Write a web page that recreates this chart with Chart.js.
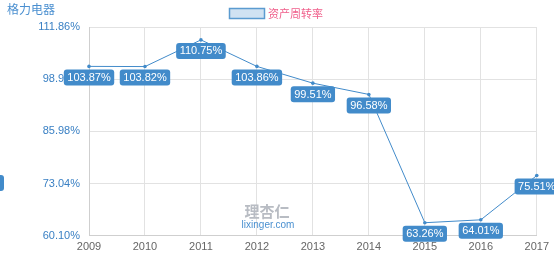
<!DOCTYPE html>
<html><head><meta charset="utf-8">
<script src="https://cdn.jsdelivr.net/npm/chart.js@4/dist/chart.umd.min.js"></script>
<style>html,body{margin:0;padding:0;background:#fff}#wrap{width:554px;height:259px;position:relative}</style>
</head><body><div id="wrap"><canvas id="c" width="554" height="259"></canvas></div>
<script>
const years = ['2009','2010','2011','2012','2013','2014','2015','2016','2017'];
const turnover = [103.87,103.82,110.75,103.86,99.51,96.58,63.26,64.01,75.51];
const yTickLabels = ['60.10%','73.04%','85.98%','98.92%','111.86%'];
const seriesName = '资产周转率';
const chartTitle = '格力电器';
const Y_MIN = 59.86, Y_MAX = 114.1;

const BLUE = '#428bca';
const FONT = '"Liberation Sans", Arial, sans-serif';

function rr(ctx,x,y,w,h,r){ctx.beginPath();ctx.moveTo(x+r,y);ctx.lineTo(x+w-r,y);ctx.quadraticCurveTo(x+w,y,x+w,y+r);ctx.lineTo(x+w,y+h-r);ctx.quadraticCurveTo(x+w,y+h,x+w-r,y+h);ctx.lineTo(x+r,y+h);ctx.quadraticCurveTo(x,y+h,x,y+h-r);ctx.lineTo(x,y+r);ctx.quadraticCurveTo(x,y,x+r,y);ctx.closePath();}

const deco = {
  id:'deco',
  beforeDatasetsDraw(chart){
    const ctx = chart.ctx; ctx.save();
    ctx.textAlign='center'; ctx.textBaseline='middle';
    ctx.fillStyle='#b8bcc3'; ctx.font='bold 15px "Noto Sans CJK SC", sans-serif';
    ctx.fillText('理杏仁',267,211);
    ctx.fillStyle='#4a90d0'; ctx.font='10px '+FONT;
    ctx.fillText('lixinger.com',268,225);
    ctx.restore();
  },
  afterDatasetsDraw(chart){
    const ctx = chart.ctx; ctx.save();
    const meta = chart.getDatasetMeta(0);
    ctx.font = '11px '+FONT; ctx.textAlign='center'; ctx.textBaseline='middle';
    meta.data.forEach((pt,i)=>{
      const txt = turnover[i].toFixed(2)+'%';
      const w = ctx.measureText(txt).width + 7, h = 16;
      const x = pt.x - w/2, y = pt.y + 3;
      ctx.fillStyle = BLUE; rr(ctx,x,y,w,h,3); ctx.fill();
      ctx.fillStyle = '#fff'; ctx.fillText(txt, pt.x, y+h/2+0.5);
    });
    ctx.fillStyle = BLUE; rr(ctx,-40,175,44,16,3); ctx.fill();
    ctx.textAlign='left'; ctx.textBaseline='middle';
    ctx.fillStyle='#4a8fd0'; ctx.font='12px "Noto Sans CJK SC", sans-serif';
    ctx.fillText(chartTitle,7,9);
    ctx.fillStyle='rgba(66,139,202,0.25)'; ctx.fillRect(229.5,8.5,35,10);
    ctx.strokeStyle='#5b9bd0'; ctx.lineWidth=1.5; ctx.strokeRect(229.5,8.5,35,10);
    ctx.fillStyle='#f0608c'; ctx.font='11px "Noto Sans CJK SC", sans-serif';
    ctx.fillText(seriesName,268,14);
    ctx.restore();
  }
};

new Chart(document.getElementById('c'),{
  type:'line',
  data:{labels:years,datasets:[{label:seriesName,data:turnover,borderColor:BLUE,backgroundColor:BLUE,borderWidth:1,pointRadius:1.8,pointBorderWidth:0,tension:0,fill:false}]},
  options:{
    responsive:false,animation:false,
    layout:{padding:{top:27,right:13,bottom:0,left:0}},
    plugins:{legend:{display:false},title:{display:false},tooltip:{enabled:false}},
    scales:{
      x:{offset:false,grid:{color:'#e2e2e2',drawTicks:false},border:{color:'#cfcfcf'},
         ticks:{color:'#666',font:{size:11,family:FONT},padding:5,maxRotation:0,autoSkip:false}},
      y:{min:Y_MIN,max:Y_MAX,grid:{color:'#e2e2e2',drawTicks:false},border:{color:'#cfcfcf'},
         afterBuildTicks(s){s.ticks=[0,1,2,3,4].map(i=>({value:Y_MIN+i*(Y_MAX-Y_MIN)/4}));},
         afterFit(s){s.width=89;},
         ticks:{color:'#3a80c4',font:{size:11,family:FONT},padding:9,callback:(v,i)=>yTickLabels[i]}}
    }
  },
  plugins:[deco]
});
</script></body></html>
